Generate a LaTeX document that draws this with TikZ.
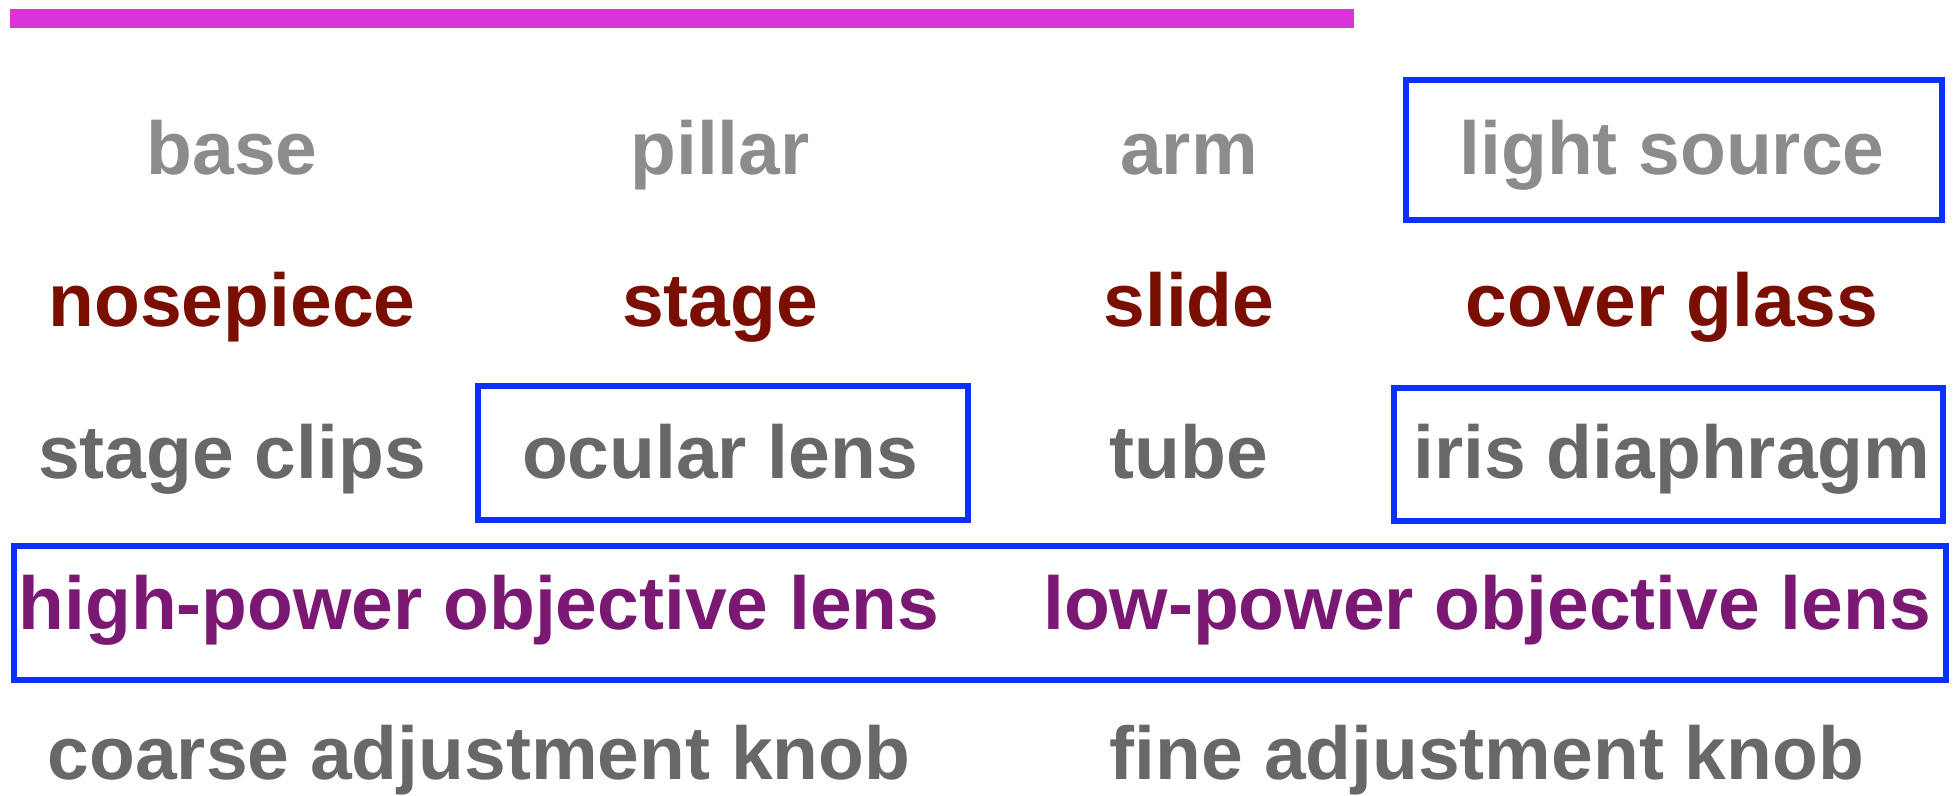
\documentclass[tikz,border=0pt]{standalone}
\usepackage{fontspec}
\setmainfont{Liberation Sans}
\definecolor{barmag}{RGB}{216,52,216}
\definecolor{framebl}{RGB}{12,48,255}
\definecolor{lightgr}{RGB}{140,140,140}
\definecolor{darkgr}{RGB}{104,104,104}
\definecolor{rustred}{RGB}{122,14,0}
\definecolor{plum}{RGB}{122,24,116}
\tikzset{
  lbl/.style={anchor=base, inner sep=0pt, font=\fontsize{37.5pt}{45pt}\selectfont\bfseries},
  rowa/.style={lbl, text=lightgr},
  rowb/.style={lbl, text=rustred},
  rowc/.style={lbl, text=darkgr},
  rowd/.style={lbl, text=plum},
  framebox/.style={draw=framebl, line width=3.3pt}
}
\begin{document}
\begin{tikzpicture}[x=0.5pt,y=-0.5pt]
\useasboundingbox (0,0) rectangle (1959,796);
% heading bar
\fill[barmag] (10,9) rectangle (1354,28);
% highlight frames
\draw[framebox] (1406,80) rectangle (1942,220);
\draw[framebox] (478,386) rectangle (968,520);
\draw[framebox] (1394,388) rectangle (1943,521);
\draw[framebox] (14,546) rectangle (1946,680);
% row 1
\node[rowa] (base)   at (232,175)  {base};
\node[rowa] (pillar) at (720,175)  {pillar};
\node[rowa] (arm)    at (1189,175) {arm};
\node[rowa] (light)  at (1672,175) {light source};
% row 2
\node[rowb] (nose)   at (232,327)  {nosepiece};
\node[rowb] (stage)  at (720,327)  {stage};
\node[rowb] (slide)  at (1189,327) {slide};
\node[rowb] (cover)  at (1672,327) {cover glass};
% row 3
\node[rowc] (clips)  at (232,479)  {stage clips};
\node[rowc] (ocular) at (720,479)  {ocular lens};
\node[rowc] (tube)   at (1189,479) {tube};
\node[rowc] (iris)   at (1672,479) {iris diaphragm};
% row 4
\node[rowd] (high)   at (479,629)  {high-power objective lens};
\node[rowd] (low)    at (1487,629) {low-power objective lens};
% row 5
\node[rowc] (coarse) at (479,779)  {coarse adjustment knob};
\node[rowc] (fine)   at (1487,779) {fine adjustment knob};
\end{tikzpicture}
\end{document}
